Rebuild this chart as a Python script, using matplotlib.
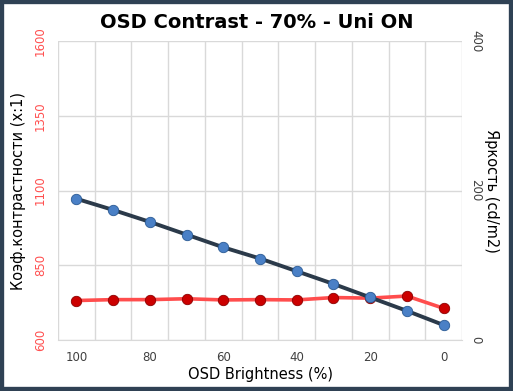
import numpy as np
import matplotlib.pyplot as plt
from matplotlib.patches import Rectangle

# data
osd_brightness = [100, 90, 80, 70, 60, 50, 40, 30, 20, 10, 0]
contrast = [732, 735, 735, 738, 734, 735, 734, 742, 740, 747, 706]
luminance = [189, 174, 158, 141, 124, 109, 92, 75, 57, 39, 20]

left_ticks = [600, 850, 1100, 1350, 1600]
right_ticks = [0, 200, 400]


def main():
    fig = plt.figure(figsize=(5.13, 3.91), dpi=100)
    fig.patches.append(Rectangle((0, 0), 1, 1, transform=fig.transFigure,
                                 facecolor='white', edgecolor='#2f4154',
                                 linewidth=6, zorder=-10))

    ax = fig.add_axes([58 / 513, 51 / 391, 404 / 513, 299 / 391])
    ax2 = ax.twinx()
    idx = np.arange(len(osd_brightness))

    ax.set_xlim(-0.5, len(idx) - 0.5)
    ax.set_ylim(600, 1600)
    ax2.set_ylim(0, 400)

    ax.set_xticks(idx[::2])
    ax.set_xticklabels([str(v) for v in osd_brightness[::2]])
    ax.set_xticks(np.arange(-0.5, len(idx), 1), minor=True)
    ax.set_yticks(left_ticks)
    ax2.set_yticks(right_ticks)

    ax.grid(True, which='minor', axis='x', color='#d9d9d9', linewidth=1)
    ax.grid(True, which='major', axis='y', color='#d9d9d9', linewidth=1)
    ax.set_axisbelow(True)

    for a in (ax, ax2):
        for s in a.spines.values():
            s.set_visible(False)
        a.tick_params(length=0, which='both')
    ax.spines['bottom'].set_visible(True)
    ax.spines['bottom'].set_color('#d9d9d9')

    ax.tick_params(axis='x', colors='#404040', labelsize=8.5, pad=8)
    ax.tick_params(axis='y', colors='#ff5050', labelsize=8.5, pad=8)
    ax2.tick_params(axis='y', colors='#404040', labelsize=8.5, pad=5)
    for t in ax.get_yticklabels():
        t.set_rotation(90)
        t.set_va('center')
    for t in ax2.get_yticklabels():
        t.set_rotation(270)
        t.set_va('center')

    ax.plot(idx, contrast, color='#ff4d4d', linewidth=2.6, marker='o',
            markersize=7.5, markerfacecolor='#cc0000',
            markeredgecolor='#8b0000', markeredgewidth=0.6, zorder=3)
    ax2.plot(idx, luminance, color='#2b3a4a', linewidth=2.8, marker='o',
             markersize=7.5, markerfacecolor='#4a80c6',
             markeredgecolor='#2a5a94', markeredgewidth=0.6, zorder=3)

    ax.set_xlabel('OSD Brightness (%)', fontsize=10.5, color='black', labelpad=2)
    ax.set_ylabel('Коэф.контрастности (x:1)', fontsize=10.5, color='black',
                  labelpad=6)
    ax2.set_ylabel('Яркость (cd/m2)', fontsize=10.5, color='black',
                   rotation=270, labelpad=12)

    fig.text(0.5, 0.943, 'OSD Contrast - 70% - Uni ON', ha='center',
             va='center', fontsize=14, fontweight='bold')

    fig.savefig('out.png', dpi=100)


if __name__ == "__main__":
    main()
